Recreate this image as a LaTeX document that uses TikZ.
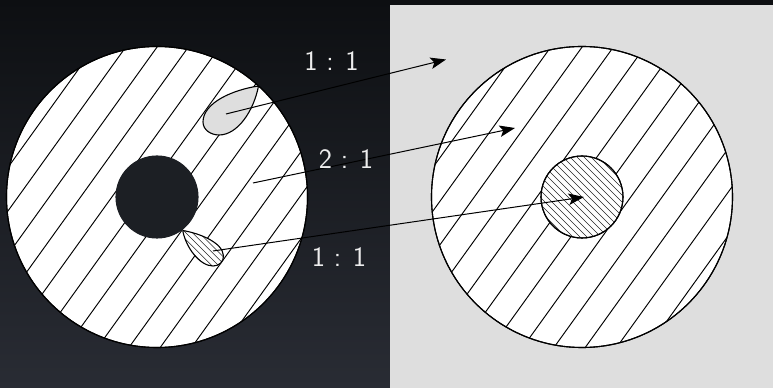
\documentclass[tikz,border=0pt]{standalone}
\usepackage{tikz}
\usepackage{xcolor}
\usetikzlibrary{arrows.meta,positioning,calc}
\definecolor{bgtop}{HTML}{0D0F12}
\definecolor{bgbottom}{HTML}{292C34}
\definecolor{holedark}{HTML}{1C1F24}
\definecolor{panelgray}{HTML}{DEDEDE}
\definecolor{labelwhite}{HTML}{EDEDED}
\tikzset{
  disc/.style={circle,draw=black,line width=0.22mm,minimum size=60.2mm,inner sep=0pt},
  core/.style={circle,draw=black,line width=0.22mm,minimum size=16.4mm,inner sep=0pt},
  wide hatch/.style={black,line width=0.19mm},
  fine hatch/.style={black!85,line width=0.11mm},
  drop/.style={draw=black,line width=0.22mm},
  ratio/.style={text=labelwhite,font=\fontsize{16}{19}\sffamily},
  map/.style={-{Stealth[length=3.1mm,width=2.3mm,inset=0.7mm]},black,line width=0.2mm}
}
\begin{document}
\begin{tikzpicture}[x=0.2mm,y=-0.2mm]
\useasboundingbox (0,0) rectangle (773,388);
\shade[top color=bgtop,bottom color=bgbottom] (0,0) rectangle (773,388);
\fill[panelgray] (390,5) rectangle (773,388);
% the two discs with their wide hatching
\node[disc,fill=white] (domain) at (157,197) {};
\node[disc,fill=white] (image) at (582,197) {};
\foreach \cx in {157,582} {
  \begin{scope}
    \clip (\cx,197) circle (150.5);
    \foreach \k in {0,...,11}
      \draw[wide hatch] ({\cx-170.3+31.3*\k+115},37) -- ({\cx-170.3+31.3*\k-115},357);
  \end{scope}
}
\node[disc] (domainrim) at (157,197) {};
\node[disc] (imagerim) at (582,197) {};
\node[core,fill=holedark,draw=holedark] (hole) at (157,197) {};
% centre of the right disc
\node[core,fill=white] (centre) at (582,197) {};
\begin{scope}
  \clip (582,197) circle (41);
  \foreach \k in {-12,...,12}
    \draw[fine hatch] ({582+7*\k-45},152) -- ({582+7*\k+45},242);
\end{scope}
\node[core] (centrerim) at (582,197) {};
% the two drops on the left disc
\draw[drop,fill=panelgray] (258.5,86) .. controls (232,90) and (203,103) .. (203,122)
  .. controls (203,130) and (211,135) .. (219,135)
  .. controls (238,135) and (254,110) .. (258.5,86);
\draw[drop,fill=white,path picture={
    \foreach \k in {-6,...,6}
      \draw[fine hatch] ({203+6.8*\k-40},210) -- ({203+6.8*\k+40},290);
  }] (182.7,230.5) .. controls (198,233) and (223,242) .. (223.5,256)
  .. controls (223.5,262) and (219,266) .. (213,266)
  .. controls (200,266) and (186,248) .. (182.7,230.5);
% ends of the arrows
\coordinate (a1) at (226,114);
\coordinate (b1) at (446,59.5);
\coordinate (a2) at (253,183);
\coordinate (b2) at (515,128);
\coordinate (a3) at (213,251);
\coordinate (b3) at (584,197);
\draw[map] (a1) -- (b1);
\draw[map] (a2) -- (b2);
\draw[map] (a3) -- (b3);
\node[ratio] (ratiotop) at (331.5,61.5) {1 : 1};
\node[ratio] (ratiomid) at (346,159) {2 : 1};
\node[ratio] (ratiolow) at (339,257) {1 : 1};
\end{tikzpicture}
\end{document}
